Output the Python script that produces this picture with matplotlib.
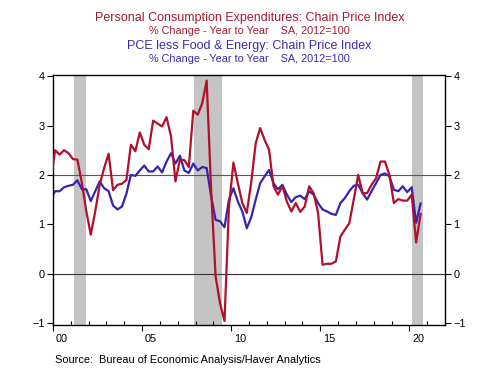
import numpy as np
import matplotlib
matplotlib.use("Agg")
import matplotlib.pyplot as plt
import matplotlib.transforms as mtransforms

plt.rcParams['font.family'] = ['Liberation Sans', 'DejaVu Sans']

# quarterly yoy % change, 1999Q4 .. 2020Q3
pce = [1.85,
       2.50, 2.41, 2.50, 2.44,
       2.32, 2.31, 1.84, 1.26,
       0.79, 1.26, 1.80, 2.14,
       2.43, 1.69, 1.80, 1.82,
       1.90, 2.61, 2.48, 2.86,
       2.61, 2.52, 3.10, 3.04,
       2.98, 3.17, 2.78, 1.87,
       2.31, 2.30, 2.16, 3.30,
       3.22, 3.45, 3.91, 1.70,
       -0.05, -0.60, -0.96, 1.35,
       2.25, 1.83, 1.43, 1.23,
       1.85, 2.64, 2.95, 2.71,
       2.51, 1.77, 1.60, 1.78,
       1.46, 1.26, 1.43, 1.25,
       1.36, 1.77, 1.63, 1.23,
       0.18, 0.20, 0.20, 0.25,
       0.75, 0.89, 1.02, 1.50,
       2.00, 1.63, 1.63, 1.80,
       1.93, 2.27, 2.27, 2.00,
       1.43, 1.51, 1.48, 1.48,
       1.60, 0.63, 1.21]

core = [1.52,
        1.67, 1.67, 1.75, 1.78,
        1.80, 1.89, 1.71, 1.71,
        1.47, 1.67, 1.87, 1.73,
        1.67, 1.38, 1.30, 1.36,
        1.62, 2.00, 1.98, 2.09,
        2.19, 2.07, 2.07, 2.17,
        2.05, 2.27, 2.44, 2.23,
        2.39, 2.09, 2.04, 2.23,
        2.09, 2.16, 2.14, 1.57,
        1.09, 1.06, 0.94, 1.50,
        1.73, 1.46, 1.26, 0.92,
        1.14, 1.50, 1.83, 1.97,
        2.10, 1.83, 1.71, 1.80,
        1.60, 1.45, 1.55, 1.58,
        1.51, 1.67, 1.60, 1.43,
        1.30, 1.26, 1.21, 1.19,
        1.43, 1.53, 1.67, 1.78,
        1.80, 1.63, 1.50, 1.67,
        1.83, 2.00, 2.03, 1.97,
        1.70, 1.67, 1.77, 1.65,
        1.75, 1.03, 1.42]

# recessions (start, end) in fractional years
recessions = [(2001.17, 2001.83), (2007.92, 2009.5), (2020.13, 2020.75)]
year_labels = ['00', '05', '10', '15', '20']
label_years = [2000, 2005, 2010, 2015, 2020]

# mid-quarter dates starting 1999Q4
dates = 1999.875 + 0.25 * np.arange(len(pce))

red = '#B0102E'
blue = '#3424B0'

fig = plt.figure(figsize=(4.99, 3.74), dpi=100)
ax = fig.add_axes([0.106, 0.131, 0.786, 0.668])

for s, e in recessions:
    ax.axvspan(s, e, color='#C4C4C4', lw=0, zorder=0)

ax.axhline(2, color='#B03040', lw=0.8, zorder=1)
ax.axhline(0, color='#333333', lw=0.8, zorder=1)

ax.plot(dates, pce, color=red, lw=1.6, zorder=3)
ax.plot(dates, core, color=blue, lw=1.6, zorder=2)

ax.set_xlim(2000, 2022)
ax.set_ylim(-1.04, 4.02)

# y axis on both sides
ax.set_yticks([-1, 0, 1, 2, 3, 4])
ax.tick_params(axis='y', which='major', direction='out', length=4, width=0.8,
               labelsize=7.8, left=True, right=True, labelleft=True, labelright=True, pad=2)

# x ticks: 5-year outward, yearly inward, labels mid-year
ax.set_xticks(label_years)
ax.set_xticks(range(2000, 2022), minor=True)
ax.tick_params(axis='x', which='major', direction='out', length=4, width=0.8, labelbottom=False)
ax.tick_params(axis='x', which='minor', direction='in', length=3, width=0.8)
trans = mtransforms.blended_transform_factory(ax.transData, ax.transAxes)
for yr, lab in zip(label_years, year_labels):
    ax.text(yr + 0.5, -0.035, lab, transform=trans, ha='center', va='top', fontsize=7.8)

for sp in ax.spines.values():
    sp.set_linewidth(1.0)
    sp.set_color('black')

fig.text(0.5, 0.952, 'Personal Consumption Expenditures: Chain Price Index',
         ha='center', va='center', fontsize=9.0, color='#A51A30')
fig.text(0.5, 0.916, '% Change - Year to Year    SA, 2012=100',
         ha='center', va='center', fontsize=7.8, color='#A51A30')
fig.text(0.5, 0.877, 'PCE less Food & Energy: Chain Price Index',
         ha='center', va='center', fontsize=9.0, color='#3A2CB0')
fig.text(0.5, 0.841, '% Change - Year to Year    SA, 2012=100',
         ha='center', va='center', fontsize=7.8, color='#3A2CB0')

fig.text(0.11, 0.025, 'Source:  Bureau of Economic Analysis/Haver Analytics',
         ha='left', va='bottom', fontsize=7.9)

fig.savefig('out.png', dpi=100)
